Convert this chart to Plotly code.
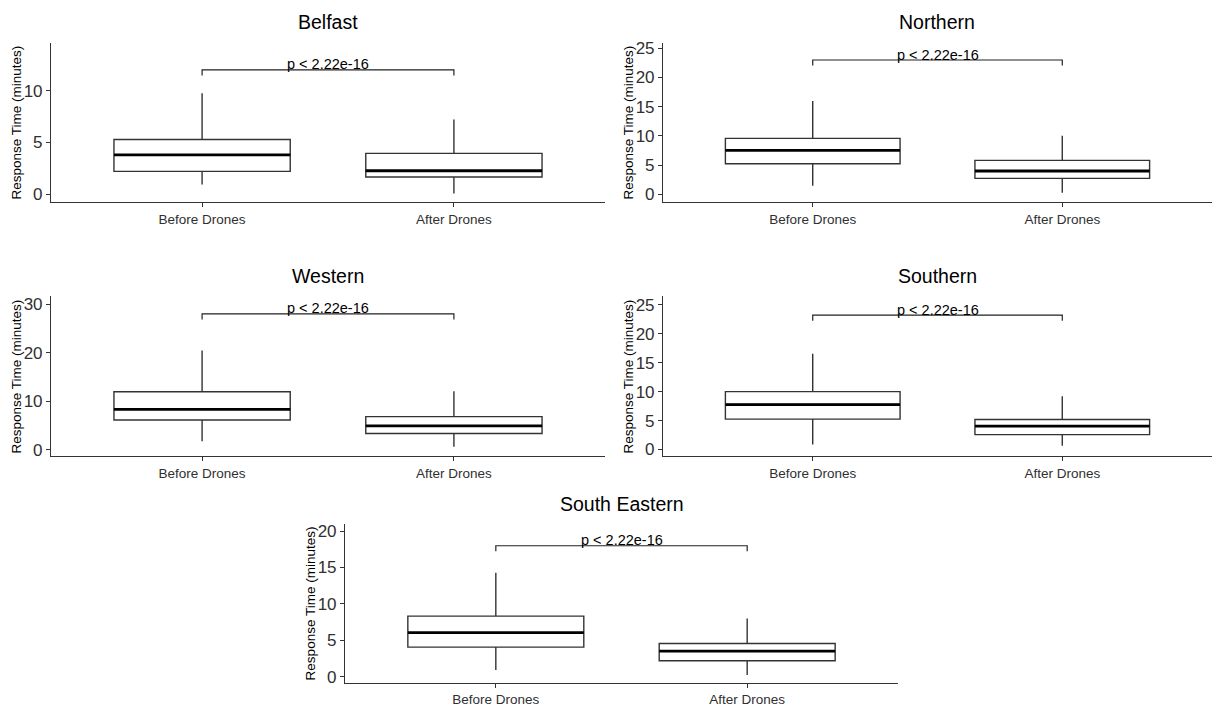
import plotly.graph_objects as go

# ---------------- data ----------------
regions = ["Belfast", "Northern", "Western", "Southern", "South Eastern"]
categories = ["Before Drones", "After Drones"]

before_lower = [0.92, 1.48, 1.78, 0.86, 0.91]
before_q1 = [2.19, 5.25, 6.15, 5.25, 4.05]
before_median = [3.78, 7.53, 8.34, 7.76, 6.05]
before_q3 = [5.27, 9.59, 11.96, 9.99, 8.32]
before_upper = [9.74, 16.0, 20.46, 16.55, 14.27]

after_lower = [0.06, 0.29, 0.62, 0.63, 0.23]
after_q1 = [1.65, 2.74, 3.35, 2.57, 2.18]
after_median = [2.25, 4.0, 4.92, 4.05, 3.5]
after_q3 = [3.93, 5.82, 6.84, 5.19, 4.55]
after_upper = [7.2, 10.05, 12.07, 9.19, 8.0]

bracket_y = [12.0, 23.0, 28.0, 23.2, 18.0]
p_labels = ["p < 2.22e-16"] * 5

y_ranges = [[-0.8, 14.63], [-1.36, 25.97], [-1.36, 31.56], [-1.2, 26.43], [-0.91, 21.05]]
y_dticks = [5, 5, 10, 5, 5]
y_title = "Response Time (minutes)"

# ---------------- layout geometry (pixels) ----------------
W, H = 1214, 710
# (left, right, top, bottom, title_y) of each panel in pixels
panels = [
    (51, 605, 40, 201, 19),
    (663, 1212, 40, 201, 19),
    (51, 605, 296, 457.3, 275),
    (663, 1212, 296, 457.3, 275),
    (345, 898, 525, 686, 505),
]

BOX_W = 0.7
REG = "Liberation Sans, Arial, sans-serif"

fig = go.Figure()
layout = dict(
    width=W, height=H,
    margin=dict(l=0, r=0, t=0, b=0),
    paper_bgcolor="white", plot_bgcolor="white",
    showlegend=False,
    annotations=[],
)

for i, name in enumerate(regions):
    sfx = "" if i == 0 else str(i + 1)
    xa, ya = "x" + sfx, "y" + sfx
    l, r, t, b, ty = panels[i]
    xdom = [l / W, r / W]
    ydom = [1 - b / H, 1 - t / H]

    stats = [
        (before_lower[i], before_q1[i], before_median[i], before_q3[i], before_upper[i]),
        (after_lower[i], after_q1[i], after_median[i], after_q3[i], after_upper[i]),
    ]
    for k, (lo, q1, med, q3, hi) in enumerate(stats):
        fig.add_trace(go.Box(
            x=[k], q1=[q1], median=[med], q3=[q3],
            lowerfence=[lo], upperfence=[hi],
            width=BOX_W, whiskerwidth=0,
            fillcolor="white",
            line=dict(color="#333333", width=1.4),
            boxpoints=False, hoverinfo="skip",
            xaxis=xa, yaxis=ya,
        ))
        # thick median line (ggplot style)
        fig.add_trace(go.Scatter(
            x=[k - BOX_W / 2, k + BOX_W / 2], y=[med, med],
            mode="lines", line=dict(color="black", width=2.8),
            hoverinfo="skip", xaxis=xa, yaxis=ya,
        ))

    # significance bracket
    span = y_ranges[i][1] - y_ranges[i][0]
    tip = bracket_y[i] - 0.035 * span
    fig.add_trace(go.Scatter(
        x=[0, 0, 1, 1], y=[tip, bracket_y[i], bracket_y[i], tip],
        mode="lines", line=dict(color="#222222", width=1.2),
        hoverinfo="skip", xaxis=xa, yaxis=ya,
    ))
    layout["annotations"].append(dict(
        x=0.5, y=bracket_y[i], xref=xa, yref=ya,
        text=p_labels[i], showarrow=False,
        xanchor="center", yanchor="bottom", yshift=-4.5,
        font=dict(family=REG, size=14.5, color="black"),
    ))

    # panel title
    layout["annotations"].append(dict(
        x=(xdom[0] + xdom[1]) / 2, y=1 - ty / H, xref="paper", yref="paper",
        text=name, showarrow=False, xanchor="center", yanchor="middle",
        font=dict(family=REG, size=19.5, color="black"),
    ))
    # y-axis title
    layout["annotations"].append(dict(
        x=(l - 35) / W, y=(ydom[0] + ydom[1]) / 2, xref="paper", yref="paper",
        text=y_title, showarrow=False, textangle=-90,
        xanchor="center", yanchor="middle",
        font=dict(family=REG, size=13.5, color="black"),
    ))

    layout["xaxis" + sfx] = dict(
        domain=xdom, anchor=ya, range=[-0.6, 1.6],
        tickmode="array", tickvals=[0, 1], ticktext=categories,
        showline=True, linecolor="#333333", linewidth=1.1,
        ticks="outside", ticklen=4, tickcolor="#333333",
        showgrid=False, zeroline=False,
        tickfont=dict(family=REG, size=13.5, color="#303030"),
        fixedrange=True,
    )
    layout["yaxis" + sfx] = dict(
        domain=ydom, anchor=xa, range=y_ranges[i],
        tick0=0, dtick=y_dticks[i],
        showline=True, linecolor="#333333", linewidth=1.1,
        ticks="outside", ticklen=4, tickcolor="#333333",
        showgrid=False, zeroline=False,
        tickfont=dict(family=REG, size=17, color="#303030"),
        fixedrange=True,
    )

fig.update_layout(**layout)
fig.write_html("out.html", config={"displayModeBar": False},
               post_script="document.body.style.margin='0';")
